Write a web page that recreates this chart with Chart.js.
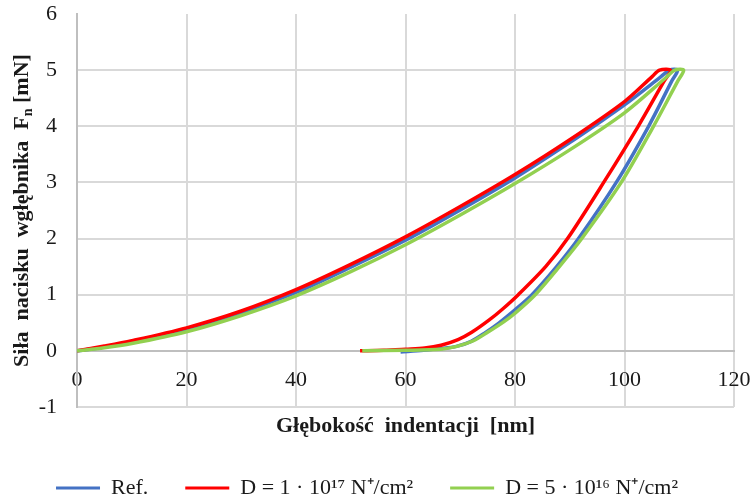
<!DOCTYPE html>
<html>
<head>
<meta charset="utf-8">
<script src="https://cdn.jsdelivr.net/npm/chart.js@4/dist/chart.umd.min.js"></script>
<style>
  html, body { margin: 0; padding: 0; background: #ffffff; }
  #wrap { width: 752px; height: 500px; }
</style>
</head>
<body>
<div id="wrap"><canvas id="c" width="752" height="500"></canvas></div>
<script>
// Indentation curves (loading, hold at peak, unloading): depth [nm] and normal force [mN]
const refDepth = [0, 5, 10, 20, 30, 40, 50, 60, 70, 80, 90, 95, 100, 106.5, 108.2, 109.7, 108.6, 104.4, 98.5, 91.6, 87.6, 83.1, 80.0, 77.1, 74.5, 72.0, 69.3, 66.4, 63.3, 59.1];
const refForce = [0, 0.07, 0.16, 0.37, 0.68, 1.04, 1.49, 1.97, 2.51, 3.08, 3.71, 4.04, 4.38, 4.87, 5.00, 5.00, 4.80, 4.00, 3.00, 2.00, 1.50, 1.00, 0.73, 0.50, 0.32, 0.17, 0.08, 0.04, 0.01, -0.02];

const d17Depth = [0, 5, 10, 20, 30, 40, 50, 60, 70, 80, 90, 100, 105.0, 106.4, 108.4, 107.2, 102.5, 96.2, 89.6, 85.6, 80.6, 77.8, 75.3, 72.1, 69.6, 66.5, 63.5, 60.0, 56.0, 51.7];
const d17Force = [0, 0.085, 0.18, 0.41, 0.71, 1.09, 1.54, 2.03, 2.57, 3.14, 3.76, 4.44, 4.88, 5.00, 5.00, 4.80, 4.00, 3.00, 2.00, 1.50, 1.00, 0.75, 0.55, 0.33, 0.20, 0.10, 0.05, 0.03, 0.01, 0.00];

const d16Depth = [0, 5, 10, 20, 30, 40, 50, 60, 70, 80, 90, 100, 107.5, 109.2, 110.8, 109.7, 105.3, 99.4, 92.2, 88.1, 83.7, 80.0, 78.0, 75.0, 72.4, 69.4, 66.4, 60.0, 52.1];
const d16Force = [0, 0.055, 0.13, 0.34, 0.63, 0.98, 1.41, 1.89, 2.42, 2.98, 3.58, 4.24, 4.86, 5.00, 5.00, 4.80, 4.00, 3.00, 2.00, 1.50, 1.00, 0.67, 0.52, 0.33, 0.18, 0.08, 0.03, 0.01, 0.00];

const seriesLabels = ['Ref.', 'D = 1 · 10¹⁷ N⁺/cm²', 'D = 5 · 10¹⁶ N⁺/cm²'];
const seriesColors = ['#4472c4', '#ff0000', '#92d050'];

const xRange = [0, 120];
const yRange = [-1, 6];
const xStep = 20;
const yStep = 1;

const xTitleText = 'Głębokość  indentacji  [nm]';
const yTitleParts = ['Siła  nacisku  wgłębnika  F', 'n', ' [mN]'];

const SERIF = "'Liberation Serif', 'Times New Roman', serif";
const TEXT = '#1a1a1a';
const GRID = '#d9d9d9';
const AXIS = '#bfbfbf';

function toPoints(xs, ys) {
  return xs.map((x, i) => ({ x: x, y: ys[i] }));
}

// Rotated y-axis title with a subscript "n"
const yTitlePlugin = {
  id: 'yTitleSub',
  afterDraw(chart) {
    const { ctx, chartArea } = chart;
    const mainFont = 'bold 22px ' + SERIF;
    const subFont = 'bold 14px ' + SERIF;
    ctx.save();
    ctx.font = mainFont;
    const w0 = ctx.measureText(yTitleParts[0]).width;
    const w2 = ctx.measureText(yTitleParts[2]).width;
    ctx.font = subFont;
    const w1 = ctx.measureText(yTitleParts[1]).width;
    const total = w0 + w1 + w2;
    ctx.translate(21, (chartArea.top + chartArea.bottom) / 2);
    ctx.rotate(-Math.PI / 2);
    ctx.fillStyle = TEXT;
    ctx.textBaseline = 'alphabetic';
    ctx.textAlign = 'left';
    let x = -total / 2;
    const base = 7;
    ctx.font = mainFont;
    ctx.fillText(yTitleParts[0], x, base);
    x += w0;
    ctx.font = subFont;
    ctx.fillText(yTitleParts[1], x, base + 4);
    x += w1;
    ctx.font = mainFont;
    ctx.fillText(yTitleParts[2], x, base);
    ctx.restore();
  }
};

const datasets = [
  { label: seriesLabels[0], data: toPoints(refDepth, refForce), borderColor: seriesColors[0], backgroundColor: seriesColors[0], order: 3 },
  { label: seriesLabels[1], data: toPoints(d17Depth, d17Force), borderColor: seriesColors[1], backgroundColor: seriesColors[1], order: 2 },
  { label: seriesLabels[2], data: toPoints(d16Depth, d16Force), borderColor: seriesColors[2], backgroundColor: seriesColors[2], order: 1 }
].map(d => Object.assign(d, {
  borderWidth: 3.5,
  pointRadius: 0,
  pointHoverRadius: 0,
  tension: 0.3,
  fill: false,
  xAxisID: 'x',
  yAxisID: 'y'
}));

new Chart(document.getElementById('c'), {
  type: 'line',
  data: { datasets: datasets },
  options: {
    responsive: false,
    animation: false,
    events: [],
    layout: { padding: { top: 14, right: 18, bottom: 0, left: 0 } },
    plugins: {
      tooltip: { enabled: false },
      legend: {
        position: 'bottom',
        align: 'center',
        maxHeight: 60,
        labels: {
          font: { family: SERIF, size: 22 },
          color: TEXT,
          boxWidth: 44,
          boxHeight: 3,
          padding: 37,
          sort: (a, b) => a.datasetIndex - b.datasetIndex,
          generateLabels(chart) {
            const items = Chart.defaults.plugins.legend.labels.generateLabels(chart);
            items.forEach(it => { it.lineWidth = 0; it.fillStyle = it.strokeStyle; });
            return items;
          }
        }
      }
    },
    scales: {
      x: {
        type: 'linear',
        min: xRange[0],
        max: xRange[1],
        position: { y: 0 },
        ticks: { stepSize: xStep, padding: 0, font: { family: SERIF, size: 22 }, color: TEXT, maxRotation: 0 },
        grid: { color: GRID, lineWidth: 2, drawTicks: true, tickLength: 16, tickColor: 'rgba(0,0,0,0)' },
        border: { color: AXIS, width: 2 }
      },
      xTitle: {
        type: 'linear',
        axis: 'x',
        min: xRange[0],
        max: xRange[1],
        position: 'bottom',
        ticks: { display: false },
        grid: { display: false, drawTicks: false },
        border: { display: false },
        title: {
          display: true,
          text: xTitleText,
          font: { family: SERIF, size: 22, weight: 'bold' },
          color: TEXT,
          padding: { top: 0, bottom: 0 }
        },
        afterFit(scale) { scale.height = 33; }
      },
      y: {
        type: 'linear',
        min: yRange[0],
        max: yRange[1],
        ticks: { stepSize: yStep, padding: 0, font: { family: SERIF, size: 22 }, color: TEXT },
        grid: {
          color: (c) => (c.tick && c.tick.value === yRange[1]) ? 'rgba(0,0,0,0)' : GRID,
          lineWidth: 2,
          drawTicks: true,
          tickLength: 20,
          tickColor: 'rgba(0,0,0,0)'
        },
        border: { color: AXIS, width: 2 },
        afterFit(scale) { scale.width = 77; }
      }
    }
  },
  plugins: [yTitlePlugin]
});
</script>
</body>
</html>
